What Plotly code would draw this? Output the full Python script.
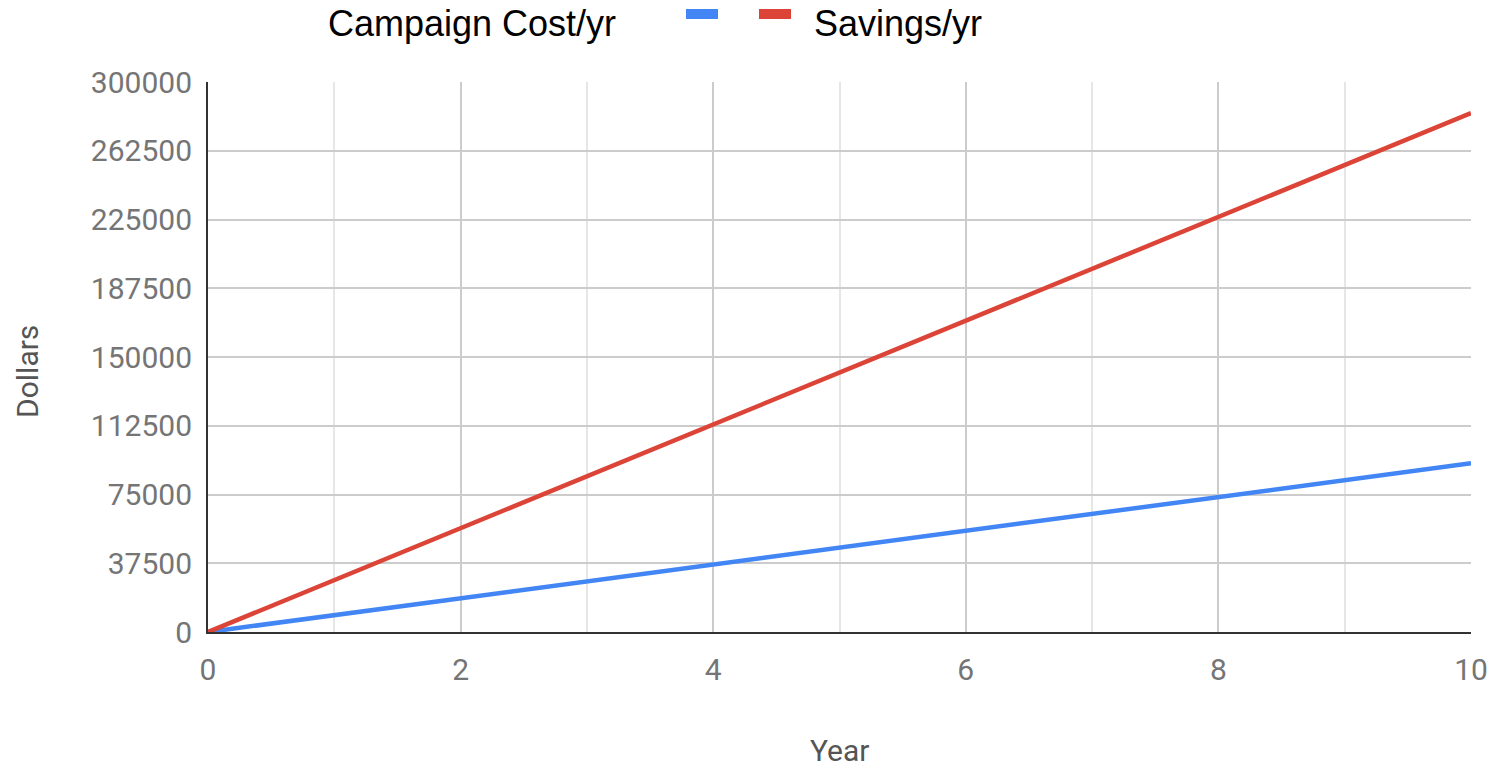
import plotly.graph_objects as go

years = [0, 1, 2, 3, 4, 5, 6, 7, 8, 9, 10]
campaign_cost = [0, 9200, 18400, 27600, 36800, 46000, 55200, 64400, 73600, 82800, 92000]
savings = [0, 28300, 56600, 84900, 113200, 141500, 169800, 198100, 226400, 254700, 283000]
y_ticks = [0, 37500, 75000, 112500, 150000, 187500, 225000, 262500, 300000]
x_ticks = [0, 2, 4, 6, 8, 10]
series_names = ["Campaign Cost/yr", "Savings/yr"]
colors = ["#4285F4", "#DB4437"]

fig = go.Figure()
fig.add_trace(go.Scatter(x=years, y=campaign_cost, mode="lines", name=series_names[0],
                         line=dict(color=colors[0], width=4.5), showlegend=False))
fig.add_trace(go.Scatter(x=years, y=savings, mode="lines", name=series_names[1],
                         line=dict(color=colors[1], width=4.5), showlegend=False))

tick_font = dict(family="Roboto", size=30, color="#757575")
title_font = dict(family="Roboto", size=30, color="#555555")

W, H = 1503, 768
L, R, T, B = 208, 32, 82, 136
PW, PH = W - L - R, H - T - B

def px_x(x):
    return (x - L) / PW

def px_y(y):
    return (H - B - y) / PH

fig.update_layout(
    width=W, height=H,
    margin=dict(l=L, r=R, t=T, b=B),
    paper_bgcolor="white", plot_bgcolor="white",
    xaxis=dict(range=[0, 10], tickvals=x_ticks, ticktext=[str(v) for v in x_ticks],
               tickfont=tick_font, showgrid=True, gridcolor="#cccccc", gridwidth=2,
               minor=dict(dtick=1, showgrid=True, gridcolor="#e6e6e6", gridwidth=2),
               showline=True, linecolor="#333333", linewidth=2, zeroline=False,
               ticks="", ticklabelstandoff=10, automargin=False),
    yaxis=dict(range=[0, 300000], tickvals=y_ticks, ticktext=[str(v) for v in y_ticks],
               tickfont=tick_font, showgrid=True, gridcolor="#cccccc", gridwidth=2,
               showline=True, linecolor="#333333", linewidth=2, zeroline=False,
               ticks="", ticklabelstandoff=8, automargin=False),
)

fig.add_annotation(xref="paper", yref="paper", x=px_x(839), y=px_y(750),
                   text="Year", showarrow=False, xanchor="center", yanchor="middle",
                   font=title_font)
fig.add_annotation(xref="paper", yref="paper", x=px_x(27), y=px_y(372),
                   text="Dollars", showarrow=False, xanchor="center", yanchor="middle",
                   textangle=-90, font=title_font)

legend_font = dict(family="Liberation Sans, Arial", size=36, color="#000000")
fig.add_annotation(xref="paper", yref="paper", x=px_x(326), y=px_y(23),
                   text=series_names[0], showarrow=False, xanchor="left", yanchor="middle",
                   font=legend_font)
fig.add_shape(type="rect", xref="paper", yref="paper",
              x0=px_x(686), x1=px_x(718), y0=px_y(19), y1=px_y(9),
              fillcolor=colors[0], line=dict(width=0))
fig.add_shape(type="rect", xref="paper", yref="paper",
              x0=px_x(759), x1=px_x(791), y0=px_y(19), y1=px_y(9),
              fillcolor=colors[1], line=dict(width=0))
fig.add_annotation(xref="paper", yref="paper", x=px_x(812), y=px_y(23),
                   text=series_names[1], showarrow=False, xanchor="left", yanchor="middle",
                   font=legend_font)

fig.write_html("out.html")
